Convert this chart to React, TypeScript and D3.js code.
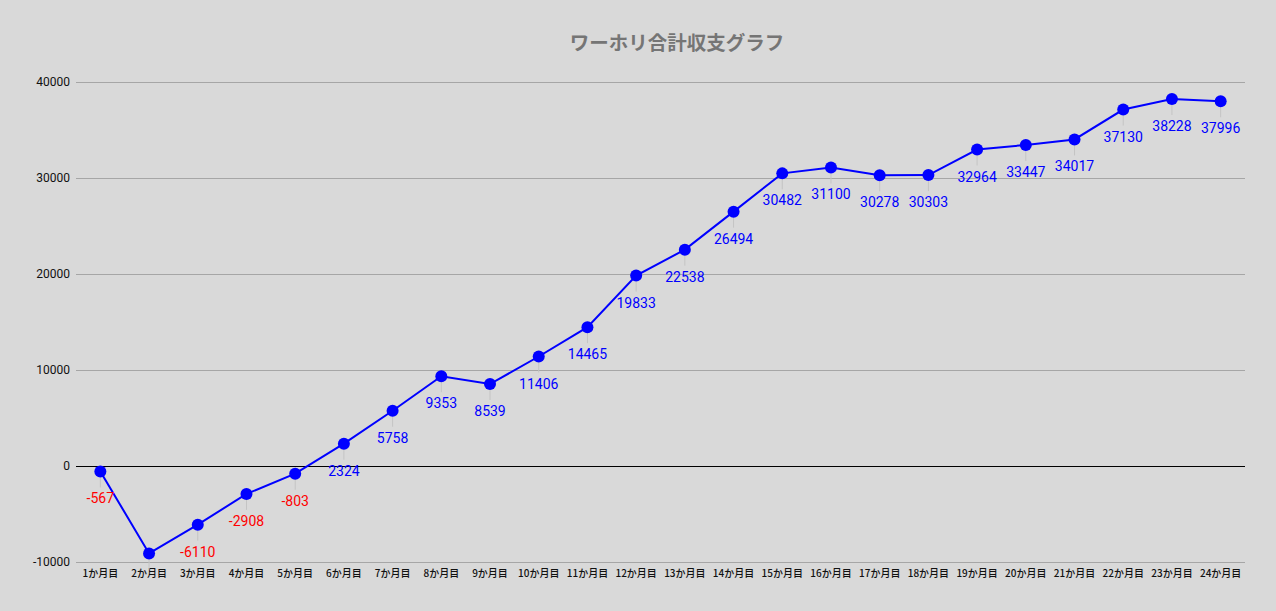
import React, { useEffect, useRef } from 'react';
import * as d3 from 'd3';

const months = Array.from({ length: 24 }, (_, i) => `${i + 1}か月目`);
const totals = [
  -567, -9110, -6110, -2908, -803, 2324, 5758, 9353, 8539, 11406, 14465, 19833,
  22538, 26494, 30482, 31100, 30278, 30303, 32964, 33447, 34017, 37130, 38228, 37996,
];
const yTicks = [-10000, 0, 10000, 20000, 30000, 40000];
const hiddenLabels = ['2か月目']; // its label is not shown in the original

const W = 1276;
const H = 611;

const App: React.FC = () => {
  const svgRef = useRef<SVGSVGElement>(null);

  useEffect(() => {
    if (!svgRef.current) return;
    const svg = d3.select(svgRef.current);
    svg.selectAll('*').remove();

    const margin = { top: 82, right: 31, bottom: 49, left: 76 };
    const width = W - margin.left - margin.right;
    const height = H - margin.top - margin.bottom;

    svg.append('rect').attr('width', W).attr('height', H).attr('fill', '#d9d9d9');

    svg.append('text')
      .attr('x', 677)
      .attr('y', 50)
      .attr('text-anchor', 'middle')
      .attr('font-family', '"Noto Sans CJK JP", sans-serif')
      .attr('font-size', 19.5)
      .attr('font-weight', 'bold')
      .attr('fill', '#757575')
      .text('ワーホリ合計収支グラフ');

    const g = svg.append('g').attr('transform', `translate(${margin.left},${margin.top})`);

    const x = d3.scaleBand().domain(months).range([0, width]);
    const y = d3.scaleLinear().domain([-10000, 40000]).range([height, 0]);

    const points = months.map((m, i) => ({ m, v: totals[i] }));
    const cx = (m: string) => (x(m) || 0) + x.bandwidth() / 2;

    // gridlines
    g.selectAll('.grid')
      .data(yTicks)
      .enter()
      .append('line')
      .attr('x1', 0)
      .attr('x2', width)
      .attr('y1', d => y(d) + 0.5)
      .attr('y2', d => y(d) + 0.5)
      .attr('stroke', d => (d === 0 ? '#000000' : '#a6a6a6'))
      .attr('stroke-width', 1);

    g.selectAll('.ylab')
      .data(yTicks)
      .enter()
      .append('text')
      .attr('x', -6)
      .attr('y', d => y(d))
      .attr('dy', '0.35em')
      .attr('text-anchor', 'end')
      .attr('font-family', 'Roboto, sans-serif')
      .attr('font-size', 12)
      .attr('fill', '#111')
      .text(d => d);

    g.selectAll('.xlab')
      .data(months)
      .enter()
      .append('text')
      .attr('x', d => cx(d))
      .attr('y', height + 15)
      .attr('text-anchor', 'middle')
      .attr('font-family', '"Noto Sans CJK JP", sans-serif')
      .attr('font-size', 10)
      .attr('font-weight', 500)
      .attr('fill', '#111')
      .text(d => d);

    // leader ticks
    g.selectAll('.leader')
      .data(points)
      .enter()
      .append('line')
      .attr('x1', d => cx(d.m))
      .attr('x2', d => cx(d.m))
      .attr('y1', d => y(d.v) + 6)
      .attr('y2', d => y(d.v) + 16)
      .attr('stroke', '#c4c4c4')
      .attr('stroke-width', 1);

    const line = d3.line<{ m: string; v: number }>()
      .x(d => cx(d.m))
      .y(d => y(d.v));

    g.append('path')
      .datum(points)
      .attr('d', line)
      .attr('fill', 'none')
      .attr('stroke', '#0000ff')
      .attr('stroke-width', 2);

    g.selectAll('.dot')
      .data(points)
      .enter()
      .append('circle')
      .attr('cx', d => cx(d.m))
      .attr('cy', d => y(d.v))
      .attr('r', 6)
      .attr('fill', '#0000ff');

    g.selectAll('.vlab')
      .data(points.filter(d => !hiddenLabels.includes(d.m)))
      .enter()
      .append('text')
      .attr('x', d => cx(d.m))
      .attr('y', d => y(d.v) + 32)
      .attr('text-anchor', 'middle')
      .attr('font-family', 'Roboto, sans-serif')
      .attr('font-size', 14)
      .attr('fill', d => (d.v < 0 ? '#ff0000' : '#0000ff'))
      .text(d => d.v);
  }, []);

  return (
    <svg
      ref={svgRef}
      width={W}
      height={H}
      style={{ display: 'block', position: 'absolute', left: 0, top: 0 }}
    />
  );
};

export default App;
